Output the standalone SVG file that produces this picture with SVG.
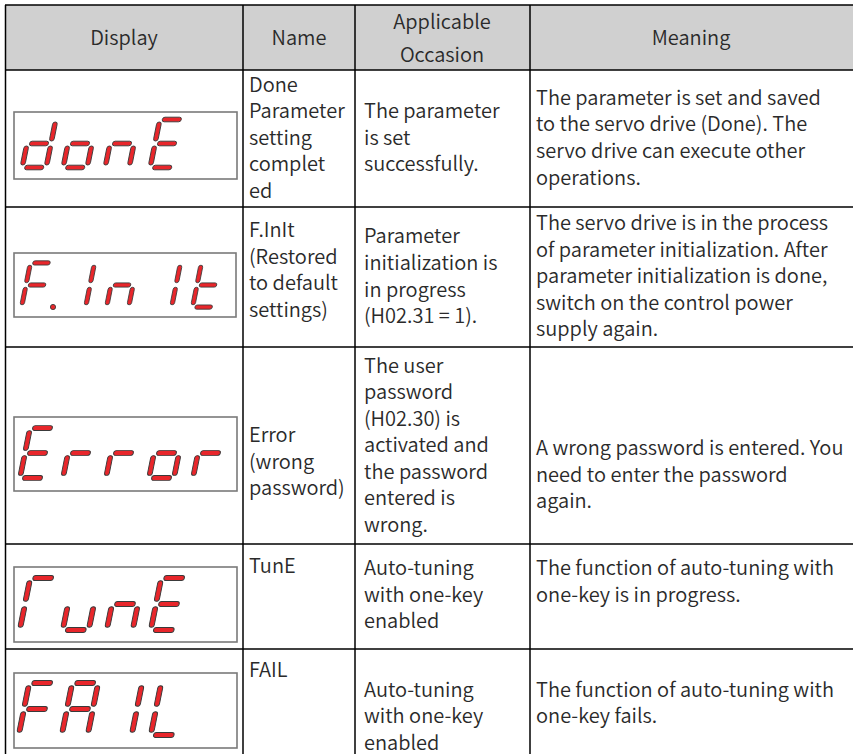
<svg xmlns="http://www.w3.org/2000/svg" xmlns:xlink="http://www.w3.org/1999/xlink" width="853" height="754" viewBox="0 0 853 754">
  <style>
    .txt { font-family: "Noto Sans CJK SC", "Noto Sans", sans-serif; font-size: 20px; font-weight: 350; fill: #2a2a2a; }
    .hd { text-anchor: middle; }
    .grid { stroke: #000; stroke-width: 1.5; fill: none; }
    .box { fill: #fff; stroke: #7a7a7a; stroke-width: 1.6; }
    .lcd { fill: #e8262b; stroke: #3a3a3a; stroke-width: 0.9; }
  </style>
  <defs>
    <!-- seven-segment pieces, unskewed, origin at the middle of the left column -->
    <rect id="sa" x="2.5" y="-26.3" width="19" height="4.6" rx="2.3"/>
    <rect id="sb" x="21.7" y="-21.5" width="4.6" height="19" rx="2.3"/>
    <rect id="sc" x="21.7" y="2.5" width="4.6" height="19" rx="2.3"/>
    <rect id="sd" x="2.5" y="21.7" width="19" height="4.6" rx="2.3"/>
    <rect id="se" x="-2.3" y="2.5" width="4.6" height="19" rx="2.3"/>
    <rect id="sf" x="-2.3" y="-21.5" width="4.6" height="19" rx="2.3"/>
    <rect id="sg" x="2.5" y="-2.3" width="19" height="4.6" rx="2.3"/>
    <!-- glyphs -->
    <g id="ch-d"><use href="#sb"/><use href="#sc"/><use href="#sd"/><use href="#se"/><use href="#sg"/></g>
    <g id="ch-o"><use href="#sc"/><use href="#sd"/><use href="#se"/><use href="#sg"/></g>
    <g id="ch-n"><use href="#sc"/><use href="#se"/><use href="#sg"/></g>
    <g id="ch-E"><use href="#sa"/><use href="#sd"/><use href="#se"/><use href="#sf"/><use href="#sg"/></g>
    <g id="ch-F"><use href="#sa"/><use href="#se"/><use href="#sf"/><use href="#sg"/></g>
    <g id="ch-A"><use href="#sa"/><use href="#sb"/><use href="#sc"/><use href="#se"/><use href="#sf"/><use href="#sg"/></g>
    <g id="ch-I"><use href="#sb"/><use href="#sc"/></g>
    <g id="ch-L"><use href="#sd"/><use href="#se"/><use href="#sf"/></g>
    <g id="ch-t"><use href="#sd"/><use href="#se"/><use href="#sf"/><use href="#sg"/></g>
    <g id="ch-r"><use href="#se"/><use href="#sg"/></g>
    <g id="ch-T"><use href="#sa"/><use href="#se"/><use href="#sf"/></g>
    <g id="ch-u"><use href="#sc"/><use href="#sd"/><use href="#se"/></g>
  </defs>

  <rect width="853" height="754" fill="#fff"/>

  <!-- header band -->
  <rect x="5" y="5" width="848" height="65" fill="#d0d0d0"/>

  <!-- table rules -->
  <g id="grid" class="grid">
    <line x1="5" y1="5" x2="853" y2="5"/>
    <line x1="5" y1="70" x2="853" y2="70"/>
    <line x1="5" y1="207" x2="853" y2="207"/>
    <line x1="5" y1="347" x2="853" y2="347"/>
    <line x1="5" y1="544" x2="853" y2="544"/>
    <line x1="5" y1="649" x2="853" y2="649"/>
    <line x1="5.5" y1="5" x2="5.5" y2="754"/>
    <line x1="243" y1="5" x2="243" y2="754"/>
    <line x1="355" y1="5" x2="355" y2="754"/>
    <line x1="530" y1="5" x2="530" y2="754"/>
  </g>

  <!-- header labels -->
  <g id="header" class="txt hd">
    <text x="124" y="45">Display</text>
    <text x="299" y="45">Name</text>
    <text x="442" y="29">Applicable</text>
    <text x="442" y="62">Occasion</text>
    <text x="691" y="45">Meaning</text>
  </g>

  <!-- row: done -->
  <g id="row-done">
    <rect class="box" x="14" y="112" width="223" height="67"/>
    <g class="lcd">
      <use href="#ch-d" transform="translate(27 143.5) skewX(-11.31)"/>
      <use href="#ch-o" transform="translate(68 143.5) skewX(-11.31)"/>
      <use href="#ch-n" transform="translate(110 143.5) skewX(-11.31)"/>
      <use href="#ch-E" transform="translate(155 143.5) skewX(-11.31)"/>
    </g>
    <g class="txt">
      <text x="249" y="92">Done</text>
      <text x="249" y="118">Parameter</text>
      <text x="249" y="145">setting</text>
      <text x="249" y="171">complet</text>
      <text x="249" y="198">ed</text>
      <text x="364" y="118">The parameter</text>
      <text x="364" y="145">is set</text>
      <text x="364" y="171">successfully.</text>
      <text x="536" y="105">The parameter is set and saved</text>
      <text x="536" y="131">to the servo drive (Done). The</text>
      <text x="536" y="158">servo drive can execute other</text>
      <text x="536" y="185">operations.</text>
    </g>
  </g>

  <!-- row: F.InIt -->
  <g id="row-finit">
    <rect class="box" x="14" y="253" width="222" height="64"/>
    <g class="lcd">
      <use href="#ch-F" transform="translate(26 285) scale(0.92) skewX(-11.31)"/>
      <circle cx="53" cy="307" r="2.6"/>
      <use href="#ch-I" transform="translate(68 285) scale(0.92) skewX(-11.31)"/>
      <use href="#ch-n" transform="translate(111 285) scale(0.92) skewX(-11.31)"/>
      <use href="#ch-I" transform="translate(154 285) scale(0.92) skewX(-11.31)"/>
      <use href="#ch-t" transform="translate(197 285) scale(0.92) skewX(-11.31)"/>
    </g>
    <g class="txt">
      <text x="249" y="237">F.InIt</text>
      <text x="249" y="264">(Restored</text>
      <text x="249" y="290">to default</text>
      <text x="249" y="317">settings)</text>
      <text x="364" y="243">Parameter</text>
      <text x="364" y="270">initialization is</text>
      <text x="364" y="297">in progress</text>
      <text x="364" y="323">(H02.31 = 1).</text>
      <text x="536" y="230">The servo drive is in the process</text>
      <text x="536" y="257">of parameter initialization. After</text>
      <text x="536" y="283">parameter initialization is done,</text>
      <text x="536" y="310">switch on the control power</text>
      <text x="536" y="336">supply again.</text>
    </g>
  </g>

  <!-- row: Error -->
  <g id="row-error">
    <rect class="box" x="14" y="417" width="223" height="74"/>
    <g class="lcd">
      <use href="#ch-E" transform="translate(25 453) scale(1.04) skewX(-11.31)"/>
      <use href="#ch-r" transform="translate(68 453) scale(1.04) skewX(-11.31)"/>
      <use href="#ch-r" transform="translate(111 453) scale(1.04) skewX(-11.31)"/>
      <use href="#ch-o" transform="translate(154 453) scale(1.04) skewX(-11.31)"/>
      <use href="#ch-r" transform="translate(198 453) scale(1.04) skewX(-11.31)"/>
    </g>
    <g class="txt">
      <text x="249" y="442">Error</text>
      <text x="249" y="469">(wrong</text>
      <text x="249" y="495">password)</text>
      <text x="364" y="373">The user</text>
      <text x="364" y="399">password</text>
      <text x="364" y="426">(H02.30) is</text>
      <text x="364" y="452">activated and</text>
      <text x="364" y="479">the password</text>
      <text x="364" y="505">entered is</text>
      <text x="364" y="532">wrong.</text>
      <text x="536" y="455">A wrong password is entered. You</text>
      <text x="536" y="482">need to enter the password</text>
      <text x="536" y="508">again.</text>
    </g>
  </g>

  <!-- row: TunE -->
  <g id="row-tune">
    <rect class="box" x="14" y="567" width="223" height="75"/>
    <g class="lcd">
      <use href="#ch-T" transform="translate(25 604) scale(1.08) skewX(-11.31)"/>
      <use href="#ch-u" transform="translate(68 604) scale(1.08) skewX(-11.31)"/>
      <use href="#ch-n" transform="translate(112 604) scale(1.08) skewX(-11.31)"/>
      <use href="#ch-E" transform="translate(156 604) scale(1.08) skewX(-11.31)"/>
    </g>
    <g class="txt">
      <text x="249" y="573">TunE</text>
      <text x="364" y="575">Auto-tuning</text>
      <text x="364" y="602">with one-key</text>
      <text x="364" y="628">enabled</text>
      <text x="536" y="575">The function of auto-tuning with</text>
      <text x="536" y="602">one-key is in progress.</text>
    </g>
  </g>

  <!-- row: FAIL -->
  <g id="row-fail">
    <rect class="box" x="14" y="673" width="223" height="75"/>
    <g class="lcd">
      <use href="#ch-F" transform="translate(24 709) scale(1.08) skewX(-11.31)"/>
      <use href="#ch-A" transform="translate(67 709) scale(1.08) skewX(-11.31)"/>
      <use href="#ch-I" transform="translate(111 709) scale(1.08) skewX(-11.31)"/>
      <use href="#ch-L" transform="translate(156 709) scale(1.08) skewX(-11.31)"/>
    </g>
    <g class="txt">
      <text x="249" y="677">FAIL</text>
      <text x="364" y="697">Auto-tuning</text>
      <text x="364" y="723">with one-key</text>
      <text x="364" y="750">enabled</text>
      <text x="536" y="697">The function of auto-tuning with</text>
      <text x="536" y="723">one-key fails.</text>
    </g>
  </g>
</svg>
